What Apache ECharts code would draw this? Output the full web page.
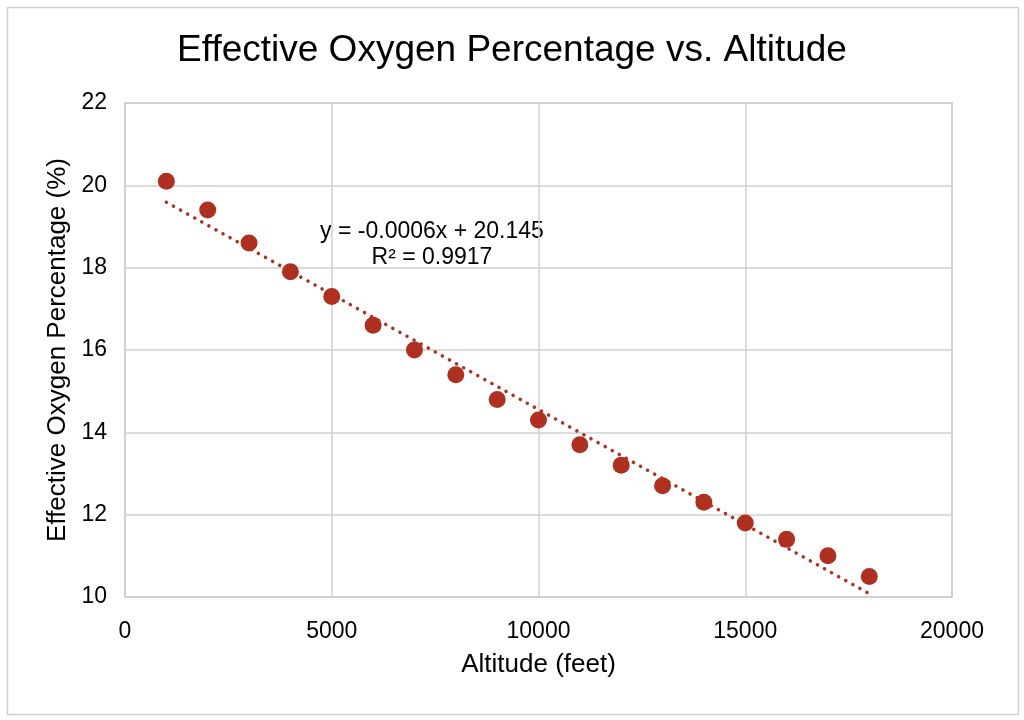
<!DOCTYPE html>
<html><head><meta charset="utf-8">
<script src="https://cdn.jsdelivr.net/npm/echarts@6/dist/echarts.min.js"></script>
<style>html,body{margin:0;padding:0;background:#fff}#c{width:1024px;height:720px}</style>
</head><body><div id="c"></div>
<script>
const altitudes = [1000,2000,3000,4000,5000,6000,7000,8000,9000,10000,11000,12000,13000,14000,15000,16000,17000,18000];
const oxygen = [20.1,19.4,18.6,17.9,17.3,16.6,16.0,15.4,14.8,14.3,13.7,13.2,12.7,12.3,11.8,11.4,11.0,10.5];
const trendX = [1000, 18000];
const trendY = [19.59, 10.08];
const equationLines = ['y = -0.0006x + 20.145', 'R² = 0.9917'];
const titleText = 'Effective Oxygen Percentage vs. Altitude';
const xName = 'Altitude (feet)';
const yName = 'Effective Oxygen Percentage (%)';

const color = '#B0301F';
const font = 'Liberation Sans';
const chart = echarts.init(document.getElementById('c'));
chart.setOption({
  animation: false,
  backgroundColor: '#fff',
  title: { text: titleText, left: 'center', top: 27, textStyle: { fontFamily: font, fontSize: 37, fontWeight: 'normal', color: '#000' } },
  grid: { left: 125, right: 72, top: 103, bottom: 123, show: true, borderColor: '#BFBFBF', borderWidth: 1.5 },
  xAxis: {
    type: 'value', min: 0, max: 20000, interval: 5000,
    name: xName, nameLocation: 'middle', nameGap: 55,
    nameTextStyle: { fontFamily: font, fontSize: 26, color: '#000' },
    axisLine: { show: false }, axisTick: { show: false },
    axisLabel: { fontFamily: font, fontSize: 23, color: '#000', margin: 23, formatter: v => String(v) },
    splitLine: { lineStyle: { color: '#D0D0D0', width: 1.5 } }
  },
  yAxis: {
    type: 'value', min: 10, max: 22, interval: 2,
    name: yName, nameLocation: 'middle', nameGap: 53,
    nameTextStyle: { fontFamily: font, fontSize: 26, color: '#000' },
    axisLine: { show: false }, axisTick: { show: false },
    axisLabel: { fontFamily: font, fontSize: 23, color: '#000', margin: 18 },
    splitLine: { lineStyle: { color: '#D0D0D0', width: 1.5 } }
  },
  series: [
    { type: 'line', data: trendX.map((x, i) => [x, trendY[i]]), symbol: 'none',
      lineStyle: { color: color, width: 3.5, type: [0.1, 8], cap: 'round' }, z: 2 },
    { type: 'scatter', data: altitudes.map((x, i) => [x, oxygen[i]]), symbolSize: 17,
      itemStyle: { color: color, opacity: 1 }, z: 3 }
  ],
  graphic: [
    { type: 'rect', left: 5, top: 5, shape: { width: 1011, height: 707 }, style: { fill: 'none', stroke: '#D0D0D0', lineWidth: 1.5 }, silent: true },
    { type: 'text', x: 432, y: 219, style: { text: equationLines.join('\n'), fontFamily: font, fontSize: 23, fill: '#000', align: 'center', verticalAlign: 'top', lineHeight: 26 } }
  ]
});
</script></body></html>
